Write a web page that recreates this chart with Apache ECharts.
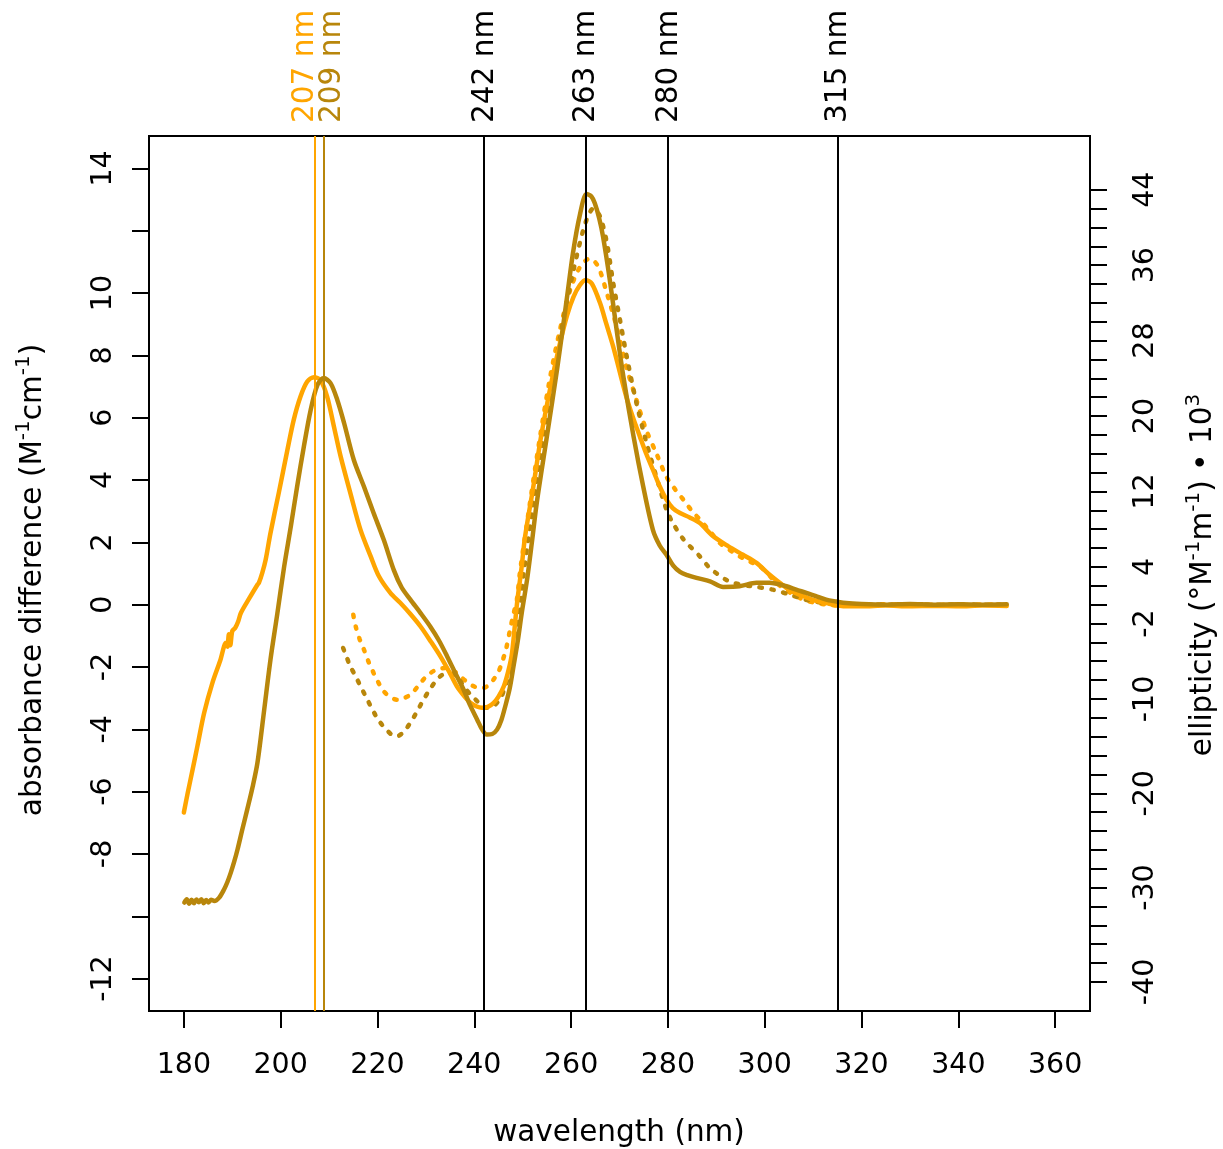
<!DOCTYPE html>
<html>
<head>
<meta charset="utf-8">
<script src="https://cdn.jsdelivr.net/npm/echarts@6/dist/echarts.min.js"></script>
<style>
html,body{margin:0;padding:0;background:#fff;}
#main{width:1223px;height:1149px;}
</style>
</head>
<body>
<div id="main"></div>
<script>
// ---------- DATA ----------
// orange solid: absorbance difference (M^-1 cm^-1)
const orangeSolidWl = [180.0,180.8,181.8,182.8,184.2,185.9,187.5,188.7,189.0,189.3,189.6,190.0,190.6,191.2,191.8,193.5,195.2,195.5,196.2,196.9,197.9,199.6,201.4,202.7,204.1,205.5,206.9,208.2,209.6,211.0,212.4,214.4,216.5,218.6,220.3,222.7,224.7,226.8,228.9,231.0,233.0,234.8,236.4,238.0,239.2,240.5,241.6,242.8,244.0,245.0,246.1,247.0,247.8,248.8,249.7,250.5,252.2,253.8,255.9,257.7,259.2,260.5,261.8,263.0,264.3,266.0,267.3,268.7,270.0,271.4,272.8,274.2,275.5,276.9,278.3,279.7,281.0,282.5,284.5,286.6,289.3,292.5,295.5,298.3,300.7,303.1,305.0,307.2,310.0,312.7,316.8,320,325,330,335,340,345,350];
const orangeSolidAbs = [-6.67,-6.04,-5.30,-4.54,-3.47,-2.51,-1.80,-1.22,-1.35,-0.95,-1.30,-0.85,-0.75,-0.55,-0.26,0.20,0.64,0.70,1.02,1.44,2.30,3.58,4.97,5.93,6.68,7.16,7.30,7.21,6.68,5.72,4.75,3.58,2.40,1.55,0.91,0.37,0.06,-0.30,-0.70,-1.18,-1.66,-2.15,-2.62,-2.95,-3.15,-3.27,-3.31,-3.28,-3.15,-2.95,-2.62,-2.15,-1.55,0.00,1.10,2.19,3.79,5.40,7.11,8.39,9.30,9.88,10.25,10.42,10.30,9.67,9.00,8.28,7.50,6.68,6.00,5.40,4.85,4.33,3.80,3.37,3.10,2.94,2.80,2.62,2.20,1.87,1.60,1.34,1.00,0.70,0.48,0.32,0.15,0.05,-0.05,-0.05,-0.03,-0.05,-0.04,-0.05,-0.03,-0.04];

// dark goldenrod solid: absorbance difference
const darkSolidWl = [180.1,180.6,181.1,181.6,182.1,182.6,183.1,183.6,184.1,184.6,185.1,185.6,186.3,187.3,188.3,189.0,189.7,190.4,191.1,192.1,193.1,194.2,195.2,196.6,197.9,199.3,200.7,202.1,203.4,204.8,206.2,207.6,208.9,210.3,211.7,213.1,215.1,217.2,219.2,221.3,223.4,225.0,226.8,228.9,230.9,232.7,234.4,236.1,237.8,239.2,240.6,241.6,242.6,243.7,244.7,245.6,246.4,247.3,248.1,249.0,249.8,250.9,251.9,252.9,255.0,257.1,259.1,260.4,261.8,263.2,264.2,264.9,265.8,266.6,268.0,269.4,270.8,272.9,274.9,276.9,278.3,279.7,281.1,282.5,284.0,285.9,288.7,291.4,294.8,298.3,301.0,304.5,306.5,308.6,310.6,312.7,314.8,316.8,320,325,330,335,340,345,350];
const darkSolidAbs = [-9.56,-9.45,-9.60,-9.47,-9.58,-9.46,-9.55,-9.45,-9.58,-9.48,-9.56,-9.47,-9.51,-9.40,-9.14,-8.90,-8.60,-8.25,-7.85,-7.20,-6.57,-5.85,-5.08,-3.37,-1.76,-0.30,1.20,2.51,3.79,5.08,6.25,7.05,7.27,7.11,6.57,5.83,4.65,3.79,2.94,2.08,1.10,0.55,0.16,-0.27,-0.70,-1.15,-1.66,-2.20,-2.73,-3.25,-3.69,-4.00,-4.17,-4.15,-4.01,-3.70,-3.26,-2.70,-1.98,-1.15,-0.27,0.80,2.00,3.26,5.40,7.55,9.80,11.30,12.50,13.18,13.10,12.88,12.40,11.81,10.42,8.82,7.32,5.40,3.79,2.40,1.90,1.60,1.25,1.05,0.95,0.86,0.75,0.57,0.59,0.70,0.70,0.59,0.48,0.38,0.27,0.16,0.10,0.05,0.02,0.00,0.02,0.00,0.01,0.00,0.01];

// orange dotted: ellipticity (deg M^-1 m^-1 x 10^3)
const orangeDotWl = [215.0,215.5,216.3,217.2,218.2,219.2,220.2,221.3,222.7,224.1,225.4,226.8,228.2,229.5,230.9,232.3,234.4,235.8,237.1,238.5,239.9,241.0,241.9,243.0,244.0,245.0,245.7,246.6,247.4,248.1,248.8,249.5,251.5,253.6,255.7,257.7,259.8,261.9,263.9,265.6,267.4,269.4,271.4,273.5,275.5,277.6,279.7,281.5,283.2,285.0,286.6,288.7,290.7,292.8,294.8,297.0,299.0,300.7,302.4,304.5,306.5,308.6,310.7,313,315,320,325,330,335,340,345,350];
const orangeDotEll = [-1.06,-2.31,-3.63,-4.76,-6.11,-7.24,-8.26,-9.19,-9.81,-10.08,-9.91,-9.55,-8.76,-7.93,-7.27,-6.87,-6.71,-7.04,-7.60,-8.19,-8.66,-8.82,-8.82,-8.52,-7.93,-7.10,-6.18,-4.63,-2.64,-0.99,0.53,3.70,10.77,17.84,24.19,29.14,33.37,35.85,36.71,35.85,33.01,29.47,25.24,21.71,18.54,16.06,13.55,12.22,11.13,9.91,9.02,7.76,6.54,5.78,5.12,4.56,4.06,3.24,2.31,1.55,0.89,0.43,0.17,0.00,-0.10,-0.05,0.05,-0.05,0.00,-0.05,0.03,-0.05];

// dark goldenrod dotted: ellipticity
const darkDotWl = [212.9,213.3,214.4,215.5,216.5,217.6,218.6,219.6,220.6,221.8,223.0,224.1,225.4,226.8,228.2,229.5,230.9,232.3,233.4,234.4,235.8,237.1,237.8,239.2,240.6,241.6,242.6,243.7,244.7,245.6,246.4,247.3,248.1,248.8,249.5,250.2,252.2,254.3,256.4,258.4,260.5,262.5,263.6,264.6,266.0,267.4,268.7,270.1,271.5,273.5,275.6,277.6,279.7,281.1,283.2,286.6,288.5,290.1,292.0,293.5,296.0,298.3,301.7,305.2,308.0,310.0,312.5,315.5,320,325,330,335,340,345,350];
const darkDotEll = [-4.59,-5.12,-6.54,-7.60,-8.66,-9.75,-10.77,-11.73,-12.52,-13.22,-13.81,-13.94,-13.48,-12.52,-11.30,-10.08,-8.92,-7.93,-7.43,-7.27,-7.50,-8.09,-8.66,-9.52,-10.24,-10.74,-10.94,-10.84,-10.41,-9.75,-8.66,-7.10,-5.12,-2.97,-0.33,3.30,10.77,17.84,24.19,30.20,35.48,39.71,41.30,42.03,41.13,38.33,34.10,30.20,26.30,21.38,17.11,13.58,10.08,8.59,6.94,5.12,3.96,3.30,2.64,2.31,2.05,1.88,1.59,1.06,0.59,0.36,0.17,0.00,0.03,0.00,0.03,0.00,0.02,0.00,0.01];

// marked wavelengths
const markWl = [207, 209, 242, 263, 280, 315];
const markColors = ['#FFA500', '#B8860B', '#000000', '#000000', '#000000', '#000000'];
const markLabels = ['207 nm', '209 nm', '242 nm', '263 nm', '280 nm', '315 nm'];
const markLabelShift = [-9, 8, 1, 1, 1, 1];

// axes
const xTicks = [180,200,220,240,260,280,300,320,340,360];
const leftTicks = [-12,-10,-8,-6,-4,-2,0,2,4,6,8,10,12,14];
const leftLabels = [-12,-8,-6,-4,-2,0,2,4,6,8,10,14];
const rightTicks = [-40,-38,-36,-34,-32,-30,-28,-26,-24,-22,-20,-18,-16,-14,-12,-10,-8,-6,-4,-2,0,2,4,6,8,10,12,14,16,18,20,22,24,26,28,30,32,34,36,38,40,42,44];
const rightLabels = [-40,-30,-20,-10,-2,4,12,20,28,36,44];

const xMin = 172.8, xMax = 367.2;
const yMin = -13.04, yMax = 15.04;
const ellPerAbs = 3.304;

// ---------- CHART ----------
const ORANGE = '#FFA500', DARK = '#B8860B';
const FONT = 'DejaVu Sans';
const zip = (a, b) => a.map((v, i) => [v, b[i]]);

const chart = echarts.init(document.getElementById('main'), null, {renderer: 'canvas'});

const tickStyle = {color: '#000', width: 2};
const labelStyle = {color: '#000', fontSize: 28.5, fontFamily: FONT};

const option = {
  animation: false,
  backgroundColor: '#fff',
  grid: {left: 149, right: 133, top: 136, bottom: 138, show: true, borderColor: '#000', borderWidth: 2, backgroundColor: 'transparent', containLabel: false},
  xAxis: {
    type: 'value', min: xMin, max: xMax,
    axisLine: {show: false, onZero: false},
    splitLine: {show: false},
    axisTick: {show: true, length: 17, lineStyle: tickStyle, customValues: xTicks},
    axisLabel: Object.assign({margin: 40, customValues: xTicks}, labelStyle)
  },
  yAxis: [{
    type: 'value', min: yMin, max: yMax, position: 'left',
    axisLine: {show: false, onZero: false},
    splitLine: {show: false},
    axisTick: {show: true, length: 17, lineStyle: tickStyle, customValues: leftTicks},
    axisLabel: Object.assign({margin: 31, rotate: 90, customValues: leftLabels}, labelStyle)
  }, {
    type: 'value', min: yMin * ellPerAbs, max: yMax * ellPerAbs, position: 'right',
    axisLine: {show: false, onZero: false},
    splitLine: {show: false},
    axisTick: {show: true, length: 17, lineStyle: tickStyle, customValues: rightTicks},
    axisLabel: Object.assign({margin: 41, rotate: 90, customValues: rightLabels}, labelStyle)
  }],
  series: [
    {
      type: 'line', name: 'orange solid', data: zip(orangeSolidWl, orangeSolidAbs), yAxisIndex: 0,
      showSymbol: false, smooth: 0.3, lineStyle: {color: ORANGE, width: 4.5, cap: 'round', join: 'round'},
      markLine: {
        silent: true, symbol: ['none', 'none'], label: {show: false},
        data: markWl.map((w, i) => ({xAxis: w, lineStyle: {color: markColors[i], width: 2, type: 'solid'}}))
      },
      z: 3
    },
    {
      type: 'line', name: 'dark solid', data: zip(darkSolidWl, darkSolidAbs), yAxisIndex: 0,
      showSymbol: false, smooth: 0.3, lineStyle: {color: DARK, width: 4.5, cap: 'round', join: 'round'}, z: 4
    },
    {
      type: 'line', name: 'orange dotted', data: zip(orangeDotWl, orangeDotEll), yAxisIndex: 1,
      showSymbol: false, smooth: 0.3, lineStyle: {color: ORANGE, width: 4.5, type: [2.5, 9.5], cap: 'round'}, z: 2
    },
    {
      type: 'line', name: 'dark dotted', data: zip(darkDotWl, darkDotEll), yAxisIndex: 1,
      showSymbol: false, smooth: 0.3, lineStyle: {color: DARK, width: 4.5, type: [2.5, 9.5], cap: 'round'}, z: 2
    }
  ]
};
chart.setOption(option);

// ---------- TEXT (titles and marker labels) ----------
const sup = {fontSize: 20, lineHeight: 20, verticalAlign: 'top', fontFamily: FONT, fill: '#000'};
const main = {fontSize: 29.5, lineHeight: 38, fontFamily: FONT, fill: '#000'};
const graphics = [
  {
    type: 'text', x: 619, y: 1133,
    style: {text: 'wavelength (nm)', fontSize: 29.5, fontFamily: FONT, fill: '#000', align: 'center', verticalAlign: 'middle'}
  },
  {
    type: 'text', x: 33, y: 580, rotation: Math.PI / 2,
    style: {
      text: '{m|absorbance difference (M}{s|-1}{m|cm}{s|-1}{m|)}',
      rich: {m: main, s: sup}, align: 'center', verticalAlign: 'middle'
    }
  },
  {
    type: 'text', x: 1203, y: 575, rotation: Math.PI / 2,
    style: {
      text: '{m|ellipticity (°M}{s|-1}{m|m}{s|-1}{m|) • 10}{s|3}',
      rich: {m: main, s: sup}, align: 'center', verticalAlign: 'middle'
    }
  }
];
markWl.forEach((w, i) => {
  const px = chart.convertToPixel({xAxisIndex: 0}, w) + markLabelShift[i];
  graphics.push({
    type: 'text', x: px, y: 123, rotation: Math.PI / 2,
    style: {text: markLabels[i], fontSize: 29.5, fontFamily: FONT, fill: markColors[i], align: 'left', verticalAlign: 'middle'}
  });
});
chart.setOption({graphic: graphics});
</script>
</body>
</html>
